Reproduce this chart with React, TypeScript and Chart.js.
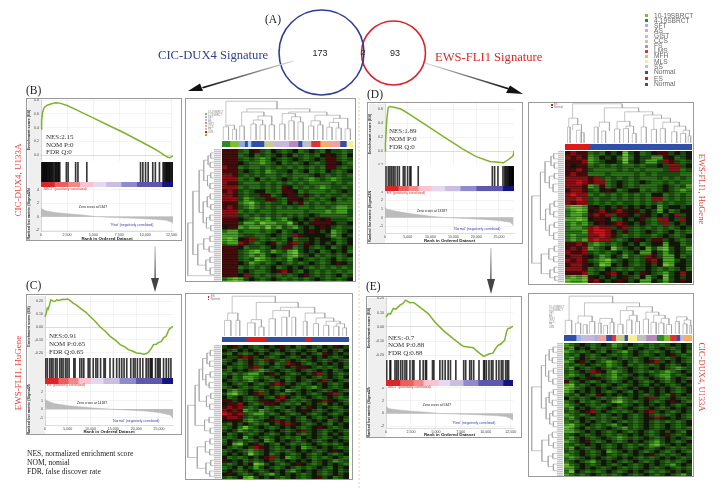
import React, { useEffect, useRef } from "react";
import { Chart, registerables } from "chart.js";
Chart.register(...registerables);

/* ---------- data ---------- */
const vennCounts = ["173", "2", "93"];
const legendLabels = ["10-19SBRCT","4-19SBRCT","SFT","AS","GIST","CCS","FS","LMS","MFH","MLS","SS","Normal","ES","Normal"];
const legendColors = ["#7fbe2c","#2d8a2c","#9fb4e6","#f4a0a0","#c8b8e0","#c8cc8c","#b888c0","#e0303a","#f4b060","#f8f090","#c0c0c0","#2f4fa8","#e01818","#2f4fa8"];

const esB = [[0,.38],[60,.5],[150,.62],[300,.69],[600,.725],[1000,.745],[1400,.76],[1800,.755],[2500,.72],[3500,.65],[5000,.54],[6500,.43],[8000,.32],[9500,.2],[10500,.12],[11200,.06],[11800,0],[12100,-.03],[12350,-.04],[12650,-.01]];
const esD = [[0,0],[100,.1],[400,.45],[700,.62],[1000,.635],[2000,.625],[3500,.6],[5500,.52],[9000,.37],[13000,.2],[17000,.03],[20000,-.08],[23000,-.15],[26000,-.168],[27000,-.125],[27700,-.09],[28100,-.07],[28300,0]];
const esC = [[0,.08],[300,.11],[500,.148],[700,.14],[1000,.175],[1300,.213],[1700,.205],[2100,.2],[2600,.213],[3000,.208],[3900,.218],[4400,.215],[5000,.22],[5600,.205],[6200,.187],[7000,.17],[8000,.14],[9000,.115],[9900,.083],[11000,.045],[12100,0],[13300,-.035],[14300,-.073],[15500,-.105],[16500,-.138],[17500,-.155],[18300,-.177],[19300,-.19],[20100,-.203],[21000,-.208],[21700,-.213],[22300,-.208],[22700,-.197],[23300,-.17],[23800,-.138],[24400,-.135],[24900,-.12],[25500,-.115],[26000,-.086],[26600,-.07],[27200,-.02],[27700,-.005],[28090,.005]];
const esE = [[0,.07],[233,.094],[450,.09],[733,.13],[1000,.125],[1400,.153],[1700,.165],[1965,.188],[2400,.17],[2700,.172],[2900,.165],[3560,.13],[4230,.094],[4900,.035],[5730,-.024],[6730,-.082],[7730,-.136],[8200,-.14],[8730,-.146],[9300,-.18],[9790,-.207],[10300,-.19],[10720,-.184],[11000,-.15],[11220,-.13],[11500,-.12],[11890,-.094],[12100,-.03],[12220,-.012],[12450,-.008],[12730,.005]];

const hitsB = [60,130,200,260,320,380,450,510,570,650,720,800,860,950,1020,1100,1180,1300,1400,1450,1550,1650,1700,1800,2430,2600,3320,3540,4390,9540,9760,10020,10270,10710,10960,11350,11700,11800,11900,12000,12050,12150,12200,12300,12350,12450,12550,12600];
const hitsD = [220,730,1090,1460,1820,2190,2700,3140,4010,4370,4960,5470,5690,7290,23550,24050,24780,25880,26240,26460,26680,26900,27100,27250,27400,27500,27700,27800,27900,28000,28100,28200];
const hitsC = [150,500,1030,1400,1760,2280,2650,3230,3600,3970,4480,4850,5290,6320,6600,7640,8080,8520,9480,9850,10580,11170,11540,12200,12940,13230,14260,15000,15730,16320,16840,17350,17940,18820,19400,19770,20280,20870,21460,22200,22640,23080,23300,23520,24250,24700,24990,25280,26020,26600,27120,27630];
const hitsE = [70,400,470,900,1070,1230,1470,1670,1900,2070,2400,2660,2800,3400,3730,3960,4060,4660,4800,5400,5660,5930,6230,6460,7000,7790,7990,8390,8560,8790,9320,9790,9890,10060,10320,10560,10720,11060,11320,11560,11720,11990,12150,12290];

const rankB = [[0,1.3],[100,1.15],[500,.85],[1500,.6],[2500,.45],[4000,.25],[5347,0],[7000,-.12],[9000,-.25],[11000,-.4],[12000,-.55],[12500,-.8],[12650,-1]];
const rankD = [[0,1.3],[300,1],[1800,.8],[5000,.5],[10000,.15],[13187,0],[18000,-.12],[22000,-.22],[25000,-.35],[27500,-.55],[28200,-.95]];
const rankC = [[0,1.25],[300,1],[2000,.65],[5000,.4],[10000,.15],[14187,0],[18000,-.1],[22000,-.22],[25000,-.4],[27500,-.7],[28090,-1.05]];
const rankE = [[0,1.05],[100,.85],[500,.7],[1500,.5],[2500,.35],[4000,.18],[5347,0],[7000,-.1],[9000,-.2],[11000,-.35],[12000,-.5],[12500,-.8],[12730,-1.1]];

const ribbonB = [1290,1290,1130,1290,1220,1450,1510,2410,1060];
const ribbonD = [2900,2200,2200,2900,2900,3400,3500,5800,2500];
const ribbonC = [2870,2200,2200,2720,2790,3530,3600,5730,2450];
const ribbonE = [1400,1330,1000,1500,1170,1330,1500,2500,1000];

const heatB = [
"rrrdgKrdgKdgdKgdKdgKddgd","rrrgdKgdgdKdKgdgdgKrKdgK","rrrdgdgGgKdgdKdgdKdrrdgd","rrrKdggGgdKgdgdKdgdrrKdg",
"Rrrgdggdgdgdgdgdgdgrrdgd","rrrdKdgdGgddKgdKgdgKdgdK","RRrdgdgdggdgdgggdKdgdgdg","RRRgdgKgdgdKdgdgGgdgGgdd",
"Rrrdgggdgdgdgdgdggggdgdg","RRRgdggdgdgrKgdgdgGgddgd","rRrdgdKKgdgrrKgdgggdgdKd","RRrdgddrrgdKrrdrdgdgddgd",
"RRRdGgddrrdgrrKdgdgdKgdg","rrrgGLgdgddgKdrgdgdgdggg","rRrdgGgdgdgdgdggdggdgGGg","RRRgdgdggdgggggdgggGgGGd",
"RRRdgdgdgdgdgdgdKdgggggd","rrrKdgGgGdgGdKdKdrKrdddg","rrrdGGgLGGggLdKdrrrrKddK","KrrGgGGgLgGdgGdKdKrKdgdd",
"gGGdgggdgdKgdKdKrKdKGgdK","GGGgddggdKdgdRrKKKKdGgKd","GLGKrRdgdgdgKgddKdKKdgdK","gGGRrdgdKrgdrRdrKdKdKgdK",
"rrrKgddgdKdrrgdKdgdKgdKd","rrrdgGLgdGgdGLdKdKgdKdKg","rrrdgGgGdKdgGLgdKgdgdgdK","rrrdgdLGgdgdGdKdgdgdKgdg",
"rrrKdGgdgdKdgdgdKdgdKrKd","rrrgdgdgdKgdKdKdgdgdgdgd","rrrdKdggdKrRKdgKdgdgdgdg","rrrKRdgdgdgdgdKrdgdgdKgd",
"gGLGdKdgdKdgdgdgdKdgdgdK"];
const heatD = [
"rRrrgdgKdKLdKgdKrrdKdK","RrRrGgKdKgLgKddGGrKgdK","rrrRGgdKKdLdKdGGdRrdgd","rKrrgdgdgdggdgddKdRRdK",
"rrRrdggggdgdgdgggdRRgd","rRrrgggdggggdgdgddddgg","RRRRrRdgdgdgdgggdgdgdg","RRXRrRRgdKdgdKdggdgdgg",
"RRRrGgrgdKdgdgggdKdgdG","rRRrdgKrKgdKKgdgdKdgGg","RXRRgdgdgdgdgdgKKgdgdg","RRXRdgddgdgdgdgRRgdgdg",
"RrRRdgdgdgddgdgdgdgddg","GLLGrKdKdrdKdKdKGdKKdK","gGLGKrRKrRrKrdKdGKgdKK","gGGgrRrRdrrKdrKdKdKRdK",
"GGLGKrrKgdKdKrdgRRKdRK","gGgGdKrKrRrKdKdgdRdKdK","gGGgRXRRdrRdgdgdgdgdKd","gggGRXXRKdrdgdKdgdKgdg",
"gGggRRXRrdgdgddgdKdgdK","gGgGRXRRdgdKrKdrrdKdgd","rrRrgGgdgdKdKgdKKGKKgd","rRrRGgdKLgdKdKGdGLdKdG",
"RrrRdgdgdKgdKGGKdGdKdg","rRRrKdGgKdGdgdRrdGGKgd","RrRrdgGLgdKdgdrRKGGdKd","rRRrKdLGKdKdgdKdKLGKKd",
"RRRrgdgKdgdgddKdgdgdKg","rrrRgdKrRKdKdrKdgGdKRK","GLGLrKdKdKrdgKGdKLdKdK","LGGLrRKdKrKdKGGKdGdKrK"];
const heatC = [
"dKrdKdgdKdKrdKgdKdgKdrKd","KdgKdKdgdKdKdgdKdgKdKdgK","dgKdgdKdKdgdKdKdKdgrKdKd","KddrRrdKdgdKdgdKdKdKdgdK",
"gdKgdKdgRrdgdKdgdKdgdKdg","dKdgdKdgdKgdRrKdgdKdKdKd","KgdgdrRdKdgdKdrrKdgdgdKg","dgKdKdgGgdKdgdKdgdKdKgdK",
"gdgdgGGdKrdKdgdKdrRdKdgd","dKgdGGgdgdKdgdKdKdgdKdgK","KdgdgGdKdgdKgdKdgdrRdKdg","dKdgdKdgdrRrdKdgdKdKdgdK",
"gdKdgdgdKdgdKdgdgGdKdgdK","KgGgdKdgdKdKGgdKdKdgdKdg","dGLgdKrRdKdgdKdKdgdKrRdK","KgdKdgdKdgrRKdgdKdgdKdgd",
"rrdKdgdrrKRrdgdgdKrRrKdg","KrrRKdgdrrKdgdgKdKdgKdKd","rRrRdgdKgdgdKdKdrKdKdgdK","RrRrGgdGgdKdgdKrKdgdKdgd",
"XRrRdgGGdgdKdgdKdgdKdgdK","rRRrdgdgdKdgdKdgKdgdKdKd","KrKrgGgdKrRrdKdgdKdKgdKg","dgKdKdgdgKdrRrKdgdKdgKdK",
"gdKgLgdKdgdKdKdgdKrKdgdK","dKdGgdgdKdKdgdrRdKdgdKdg","KgdKdgdKdgdKdKdgdKdgKdKd","dgdKGdKdgdKdgdgKdKdgdKdg",
"gKdgdgdKGgKdKdgdKdgdKdKd","dKGLdKrdKdgKdgdgdKdgdgdK","KdgdKdRrKdgdKdKGgdKdKdgd","gdKdgGgdKdgdgdKdKdgdKrKd",
"dKdKdLgdKgdKdgdKdgdKdgdK","KgdgdKdKrRdKGgdKdgdgdKdg","rKdKgdgdKdgdKdKdKgdKdGgd","dgdKdKLGdKdgdKrKdgdKdKdg",
"gdKgKdGdKdgdKdgdgdKdgKdK","dKdgdKdgdKdKgGdKdKdgdKgd","KrKdgdKdgGdKdKdgdKdgdKdK","dgdKGLdKdKdgdKdgdKrdKgdK"];
const heatE = [
"GgdKdgdKdGgdKdgdgdgdKdKd","gGKdKgdgdgdKgdKdgdKdgdKd","GgdgdKdgKdgGdKdgdgdKdgKg","gdgKdgdKdgdgdKdgdKdKrdgd",
"gGdKdgdgdKdgdgdKdgdgdKdg","GgKrdKdgGgdKdgdKrRdKdKdg","gdgdKdgdGgdKgdgdgdKdgdKd","gGKdgdKdgdgdKdgdKdKdgGgd",
"dgdKdRrKgGgdKdgdgdgGgdKd","gGgdKdgdgGdgdKdKdgGGdgdK","gdKdrKrdgGgdKdgdKdgGdKdg","rgdKdgdKdgdKdKdgdKdgdKdK",
"GLdgdKdgdKdgdKdgKdKdgdKd","LGgdKdKdKdgdKdKKdKdKdgdK","GgKdKdKdgdKdgKdKdKdKdgdK","gdgKdgrKdKdKdKdgdKdgrdKd",
"KgdgdKdgdgGgdKdrRdgdKdgd","gdKgdgdKdGLgdgdKdgdKrKdg","GgdKdgdgdKdgdKdKdKdKdgdK","gGKdKdgdKdgdKdgdKdgdKdKd",
"dgdKrRdKdgdgdKdrRdKdgdKd","GgdgdKdgdKdKdgdKdgdgdKdg","gGdKdgdgdgdKdgdKrRrKdKdg","gdgKdKdgdKdgdgdKdgdgdgdK",
"GLgdKdgdgGdKdgdKdgdKdgdK","LGdKgdgdKdgGdgdKdgdKdgdg","GGgdKdKdgdKdgdKdgdKdKdgK","gdKdgdKdgdgdKdKdgdKrdgdK",
"gGdKdgdKdgGgdgdKdgdKdKdg","GgdKrdgdKdgdKdKdgGdKdgdK","gdgdKdKdgdKdgdgdGLgdKdKd","gGKdgdKdgdKdgdKdgdKdgdgd",
"dgdKdgdKGgdKdKdgdKdgdKdg","GgdKdgdKdgdgdKdKrdgdgdKd","gGgdKdKdgdKdKdgdgdKdKdgd","gdKdgGdKdKdgdKdgdKdgdgdK",
"LgdKdgdKdgdKdgdKdKdgGdKd","GGdKdKdgdKdgdgdKdgdKdgdg","gLKdgdgdKdgdKdKdgdgdKdKd","GgdgdKdgdgdKdgdKdgdKdgGd"];

const barsB = [[6,"#2d8a2c"],[6.5,"#7fbe2c"],[4.7,"#8fa8e0"],[2.3,"#2f4fa8"],[2.6,"#b0c8ee"],[9.9,"#2f4fa8"],[7,"#c8cc8c"],[12,"#c8b8e0"],[7,"#b888c0"],[3.1,"#2f4fa8"],[6.8,"#c0c0c0"],[7,"#e0303a"],[7.3,"#f4b060"],[7.8,"#f4a0a0"],[4.9,"#2f4fa8"],[5.2,"#f8f090"]];
const barsC = [[19.2,"#2f4fa8"],[15.5,"#e01818"],[30.5,"#2f4fa8"],[4.5,"#e01818"],[30.3,"#2f4fa8"]];
const barsD = [[19,"#e01818"],[81,"#2f4fa8"]];
const barsE = [[9.4,"#2f4fa8"],[3.6,"#9fb4e6"],[10.4,"#c8b8e0"],[2.6,"#9fb4e6"],[6.8,"#f4a0a0"],[4.4,"#2f4fa8"],[3.1,"#e0303a"],[6.8,"#c8cc8c"],[2.6,"#2f4fa8"],[7,"#f8f090"],[7.3,"#c0c0c0"],[8.3,"#b888c0"],[5.7,"#2d8a2c"],[4.7,"#7fbe2c"],[5.2,"#e0303a"],[2.6,"#2f4fa8"],[2.6,"#c8b8e0"],[7,"#f4b060"]];

const colB = [[1,5,0,0,33],[8,11,0,0,27],[3,9.5,33,27,37],[13.5,17,0,0,35],[22,26,0,0,40],[29,33,0,0,38],[36,40,0,0,38],[24,31,40,38,50],[27.5,38,50,38,60],[15,32,35,60,70],[44,48,0,0,40],[51,55,0,0,48],[58,62,0,0,45],[53,60,48,45,58],[46,56,40,58,66],[66,70,0,0,35],[73,77,0,0,38],[80,84,0,0,32],[87,91,0,0,30],[94,98,0,0,28],[68,75,35,38,48],[82,89,32,30,44],[85,96,44,28,54],[71,90,48,54,62],[51,80,66,62,70],[19,67,70,70,78],[3,42,37,78,97]];
const colC = [[2,7,0,0,38],[11,14,0,0,38],[4.5,12.5,38,38,56],[20,26,0,0,32],[29,33,0,0,22],[23,31,32,22,40],[37,42,0,0,42],[47,51,0,0,46],[55,58,0,0,46],[40,53,42,46,62],[64,67,0,0,36],[72,76,0,0,30],[80,84,0,0,26],[88,92,0,0,24],[95,98,0,0,20],[90,96.5,24,20,30],[82,93,26,30,36],[74,88,30,36,44],[65.5,81,36,44,56],[46,73,62,56,70],[27,60,40,70,82],[8,42,56,82,97]];
const colD = [[2,4,0,0,40],[9,13,0,0,32],[12,15,0,0,26],[6,13,32,26,46],[3,10,40,46,62],[23,26,0,0,40],[29,32,0,0,30],[27,35,40,30,52],[39,43,0,0,35],[46,50,0,0,36],[53,56,0,0,24],[48,54,36,24,42],[41,51,35,42,54],[60,64,0,0,40],[68,72,0,0,34],[75,79,0,0,36],[84,88,0,0,28],[91,95,0,0,24],[97,99,0,0,18],[93,98,24,18,32],[86,95,28,32,42],[77,90,36,42,52],[70,83,34,52,62],[62,76,40,62,70],[47,69,54,70,78],[31,58,52,78,88],[6,45,62,88,98]];
const colE = [[1,6,0,0,35],[9,13,0,0,28],[15,18,0,0,24],[20,24,0,0,32],[27,29,0,0,28],[31,34,0,0,22],[36,39,0,0,30],[28,37.5,28,30,40],[11,22,28,32,46],[42,46,0,0,25],[49,53,0,0,36],[56,59,0,0,32],[62,66,0,0,38],[68,72,0,0,30],[74,78,0,0,28],[80,84,0,0,24],[87,90,0,0,32],[93,96,0,0,26],[98,99.5,0,0,22],[94,99,26,22,36],[88,96,32,36,44],[76,82,28,24,40],[70,79,30,40,48],[64,74,38,48,56],[51,57,36,32,48],[44,54,25,48,60],[49,69,60,56,70],[16,59,46,70,80],[4,38,35,80,97]];

const rowB = [[3,7,0,0,12],[10,14,0,0,14],[5,12,12,14,22],[18,22,0,0,12],[26,30,0,0,15],[20,28,12,15,24],[8.5,24,22,24,38],[34,38,0,0,14],[42,46,0,0,12],[36,44,14,12,25],[50,54,0,0,15],[58,62,0,0,12],[52,60,15,12,28],[40,56,25,28,40],[16,48,38,40,55],[66,70,0,0,15],[74,78,0,0,18],[68,76,15,18,38],[82,86,0,0,15],[90,95,0,0,14],[84,92,15,14,30],[72,88,38,30,60],[32,80,55,60,78],[56,96,78,0,97]];
const rowC = [[4,8,0,0,14],[12,16,0,0,16],[6,14,14,16,26],[20,24,0,0,14],[28,32,0,0,18],[22,30,14,18,30],[10,26,26,30,42],[36,40,0,0,12],[44,48,0,0,16],[38,46,12,16,28],[18,42,42,28,55],[54,58,0,0,18],[62,66,0,0,14],[56,64,18,14,35],[30,60,55,35,70],[70,74,0,0,15],[78,82,0,0,16],[72,80,15,16,32],[86,90,0,0,12],[94,98,0,0,16],[88,96,12,16,30],[76,92,32,30,62],[45,84,70,62,97]];
const rowD = [[2,6,0,0,16],[9,13,0,0,14],[4,11,16,14,26],[17,21,0,0,14],[25,31,0,0,18],[19,28,14,18,32],[8,24,26,32,48],[38,42,0,0,14],[46,50,0,0,16],[40,48,14,16,30],[54,58,0,0,14],[62,67,0,0,16],[56,64,14,16,32],[44,60,30,32,46],[16,52,48,46,65],[72,76,0,0,14],[80,84,0,0,16],[74,82,14,16,34],[88,92,0,0,14],[95,98,0,0,12],[90,96,14,12,30],[78,93,34,30,62],[34,85,65,62,97]];
const rowE = [[3,7,0,0,15],[11,15,0,0,18],[5,13,15,18,30],[19,23,0,0,14],[27,31,0,0,16],[21,29,14,16,32],[9,25,30,32,44],[35,39,0,0,14],[43,47,0,0,18],[37,45,14,18,30],[51,55,0,0,16],[59,63,0,0,14],[53,61,16,14,28],[41,57,30,28,42],[17,49,44,42,60],[67,71,0,0,18],[75,79,0,0,14],[69,77,18,14,32],[83,87,0,0,16],[91,96,0,0,14],[85,93,16,14,34],[73,89,32,34,58],[33,81,60,58,97]];

/* ---------- styles and layout ---------- */
const ribbonColors = ["#d9262c","#e8605f","#f08a8a","#f8c4cf","#e4d9ee","#c9bde0","#8f8acb","#5d57ad","#15147f"];
const cellColors: Record<string,string> = { K:"#14160b", d:"#1c4e11", g:"#2c7019", G:"#4aa226", L:"#70c036", r:"#470c0e", R:"#8a1116", X:"#c8161c" };
const GREEN = "#7db32b";
const GRID = "#e6e6e6";
const SERIF = "'Liberation Serif', serif";
const SANS = "'Liberation Sans', sans-serif";

const panels = [
  { es:esB, hits:hitsB, rank:rankB, ribbon:ribbonB, frame:[26,98,156,143], x0:41, x1:173, xMax:12650, xStep:2500,
    esR:[99,161,.815,-.087], esStep:.1, esDec:1, hitR:[162,182], ribR:[182,187], rankR:[188,231,4.3,-2.15], rankStep:1, bot:10 },
  { es:esD, hits:hitsD, rank:rankD, ribbon:ribbonD, frame:[367,102,156,142], x0:385, x1:514, xMax:28300, xStep:5000,
    esR:[103,165,.686,-.2], esStep:.1, esDec:1, hitR:[166,186], ribR:[186,191], rankR:[191,233,3.1,-1.8], rankStep:1, bot:10 },
  { es:esC, hits:hitsC, rank:rankC, ribbon:ribbonC, frame:[26,294,156,141], x0:45, x1:173, xMax:28090, xStep:5000,
    esR:[296,357,.243,-.235], esStep:.05, esDec:2, hitR:[358,378], ribR:[378,384], rankR:[384,425,2.92,-1.85], rankStep:1, bot:9 },
  { es:esE, hits:hitsE, rank:rankE, ribbon:ribbonE, frame:[366,296,156,142], x0:386, x1:513, xMax:12730, xStep:2500,
    esR:[297,359,.21,-.225], esStep:.05, esDec:2, hitR:[360,380], ribR:[380,386], rankR:[387,428,4.15,-2.3], rankStep:1, bot:9 },
];
const maps = [
  { cells:heatB, bars:barsB, col:colB, row:rowB, frame:[185,98,171,184], hx:[222,353], colY:[100,140], barY:[141,147], hy:[149,281], rowX:[187,214] },
  { cells:heatC, bars:barsC, col:colC, row:rowC, frame:[185,293,168,187], hx:[222,349], colY:[295,336], barY:[337,342], hy:[345,479], rowX:[187,214] },
  { cells:heatD, bars:barsD, col:colD, row:rowD, frame:[528,102,166,183], hx:[565,692], colY:[103,143], barY:[144,150], hy:[151,283], rowX:[531,558] },
  { cells:heatE, bars:barsE, col:colE, row:rowE, frame:[528,293,166,184], hx:[564,692], colY:[295,334], barY:[335,341], hy:[343,476], rowX:[531,557] },
];
const gseaNotes = [
  { lines:["NES:2.15","NOM P:0","FDR Q:0"], nx:46, ny:[137,144.5,152], pos:"'SRCT' (positively correlated)", px:43, py:189.5, zero:"Zero cross at 5347", zx:93, zy:208, neg:"'Rest' (negatively correlated)", gx:132, gy:226 },
  { lines:["NES:1.89","NOM P:0","FDR Q:0"], nx:389, ny:[131,139,147], pos:"'ES' (positively correlated)", px:386, py:193.5, zero:"Zero cross at 13187", zx:432, zy:212, neg:"'Normal' (negatively correlated)", gx:477, gy:230 },
  { lines:["NES:0.91","NOM P:0.65","FDR Q:0.65"], nx:49, ny:[336,344,352], pos:"'ES' (positively correlated)", px:46, py:385.5, zero:"Zero cross at 14187", zx:92, zy:404, neg:"'Normal' (negatively correlated)", gx:136, gy:422 },
  { lines:["NES:-0.7","NOM P:0.88","FDR Q:0.88"], nx:388, ny:[338,345,353], pos:"'SRCT' (positively correlated)", px:387, py:387.5, zero:"Zero cross at 5347", zx:437, zy:406, neg:"'Rest' (negatively correlated)", gx:474, gy:424 },
];
const legendY = [15.5,20.5,25.5,30.5,36,41,46,51,56,61.5,66.5,72,78.5,84];

/* ---------- chart builders ---------- */
type Spec = { rect:number[]; config:any; bg?:string; blur?:number };
const zeroPad = (s:any) => { s.paddingLeft = s.paddingRight = s.paddingTop = s.paddingBottom = 0; };
const hidden = (extra:any = {}) => ({ display:false, offset:false, ...extra });
const plotBg = { id:"plotBg", beforeDraw(c:any){ const a=c.chartArea; c.ctx.save(); c.ctx.fillStyle="#fff"; c.ctx.fillRect(a.left,a.top,a.width,a.height); c.ctx.restore(); } };
const baseOpts = (scales:any) => ({ responsive:false, animation:false, devicePixelRatio:1, events:[], layout:{padding:0,autoPadding:false},
  plugins:{legend:{display:false},tooltip:{enabled:false}}, scales });
const pts = (a:number[][]) => a.map(([x,y])=>({x,y}));
const tinyFont = { size:3.6, family:SANS };
const stepTicks = (step:number,max:number) => (s:any) => { const t=[]; for(let v=0;v<=max;v+=step) t.push({value:v}); s.ticks=t; };

function gseaSpecs(p:any):Spec[] {
  const left = p.frame[0]+1, margin = p.x0-left, w = p.x1-left;
  const yAxis = (min:number,max:number,step:number,dec:number,title:string) => ({
    min, max, afterFit:(s:any)=>{s.width=margin;zeroPad(s);},
    ticks:{stepSize:step,includeBounds:false,font:tinyFont,color:"#444",padding:1,callback:(v:number)=>dec?Number(v).toFixed(dec):String(Math.round(v))},
    grid:{color:(c:any)=>c.tick&&Math.abs(c.tick.value)<1e-6?"#bbb":GRID,lineWidth:.5,tickLength:1},
    border:{color:"#bbb",width:.5},
    title:{display:true,text:title,font:{size:3.8,family:SANS,weight:"bold"},color:"#333",padding:0}});
  const out:Spec[] = [];
  out.push({ rect:[left,p.esR[0],w,p.esR[1]-p.esR[0]], config:{ type:"line", plugins:[plotBg],
    data:{datasets:[{data:pts(p.es),borderColor:GREEN,borderWidth:1.5,pointRadius:0,tension:0,clip:false}]},
    options:baseOpts({
      x:{type:"linear",min:0,max:p.xMax,afterFit:(s:any)=>{s.height=0;zeroPad(s);},afterBuildTicks:stepTicks(p.xStep,p.xMax),ticks:{display:false},grid:{color:GRID,lineWidth:.5,tickLength:0},border:{display:false}},
      y:yAxis(p.esR[3],p.esR[2],p.esStep,p.esDec,"Enrichment score (ES)") }) } });
  out.push({ rect:[p.x0,p.hitR[0],p.x1-p.x0,p.hitR[1]-p.hitR[0]], bg:"#fff", config:{ type:"bar",
    data:{datasets:[{data:p.hits.map((x:number)=>({x,y:1})),backgroundColor:"rgba(0,0,0,.78)",barThickness:1}]},
    options:baseOpts({ x:hidden({type:"linear",min:0,max:p.xMax}), y:hidden({min:0,max:1}) }) } });
  out.push({ rect:[p.x0,p.ribR[0],p.x1-p.x0,p.ribR[1]-p.ribR[0]], config:{ type:"bar",
    data:{labels:["rank"],datasets:p.ribbon.map((v:number,i:number)=>({data:[v],backgroundColor:ribbonColors[i],categoryPercentage:1,barPercentage:1}))},
    options:{...baseOpts({ x:hidden({stacked:true,min:0,max:p.xMax}), y:{display:false,stacked:true,offset:true} }),indexAxis:"y"} } });
  out.push({ rect:[left,p.rankR[0],w+6,p.rankR[1]-p.rankR[0]+p.bot], config:{ type:"line", plugins:[plotBg],
    data:{datasets:[{data:pts(p.rank),borderColor:"#b5b5b5",backgroundColor:"#bcbcbc",borderWidth:.5,pointRadius:0,tension:0,fill:"origin"}]},
    options:{...baseOpts({
      x:{type:"linear",min:0,max:p.xMax,afterFit:(s:any)=>{s.height=p.bot;zeroPad(s);},afterBuildTicks:stepTicks(p.xStep,p.xMax),
        ticks:{font:tinyFont,color:"#444",padding:.5,maxRotation:0,autoSkip:false,callback:(v:number)=>Number(v).toLocaleString("en-US")},
        grid:{color:GRID,lineWidth:.5,tickLength:1},border:{color:"#bbb",width:.5},
        title:{display:true,text:"Rank in Ordered Dataset",font:{size:4.4,family:SANS,weight:"bold"},color:"#222",padding:0}},
      y:yAxis(p.rankR[3],p.rankR[2],p.rankStep,0,"Ranked list metric (Signal2Noise)") }),
      layout:{padding:{right:6},autoPadding:false}} } });
  return out;
}

function dendroPts(merges:number[][], horizontal:boolean) {
  const out:any[] = [];
  const add = (pos:number,h:number)=>out.push(horizontal?{x:h,y:pos}:{x:pos,y:h});
  for (const [a,b,ha,hb,top] of merges) { add(a,ha); add(a,top); add(b,top); add(b,hb); out.push({x:NaN,y:NaN}); }
  return out;
}

function mapSpecs(m:any):Spec[] {
  const out:Spec[] = [];
  const hw = m.hx[1]-m.hx[0];
  const line = { borderColor:"#a0a0a0", borderWidth:.6, pointRadius:0, tension:0, showLine:true, spanGaps:false };
  out.push({ rect:[m.hx[0],m.colY[0],hw,m.colY[1]-m.colY[0]], config:{ type:"scatter",
    data:{datasets:[{data:dendroPts(m.col,false),...line}]},
    options:baseOpts({ x:hidden({type:"linear",min:0,max:100}), y:hidden({min:0,max:100}) }) } });
  out.push({ rect:[m.rowX[0],m.hy[0],m.rowX[1]-m.rowX[0],m.hy[1]-m.hy[0]], config:{ type:"scatter",
    data:{datasets:[{data:dendroPts(m.row,true),...line}]},
    options:baseOpts({ x:hidden({type:"linear",min:0,max:100,reverse:true}), y:hidden({min:0,max:100,reverse:true}) }) } });
  out.push({ rect:[m.hx[0],m.barY[0],hw,m.barY[1]-m.barY[0]], config:{ type:"bar",
    data:{labels:["class"],datasets:m.bars.map(([v,c]:any)=>({data:[v],backgroundColor:c,categoryPercentage:1,barPercentage:1}))},
    options:{...baseOpts({ x:hidden({stacked:true,min:0,max:100}), y:{display:false,stacked:true,offset:true} }),indexAxis:"y"} } });
  const cols = m.cells[0].length, rows = m.cells.length;
  out.push({ rect:[m.hx[0],m.hy[0],hw,m.hy[1]-m.hy[0]], bg:"#14160b", blur:.45, config:{ type:"bar",
    data:{labels:Array.from({length:cols},(_,i)=>String(i)),
      datasets:m.cells.map((r:string)=>({data:r.split("").map(()=>1),backgroundColor:r.split("").map(ch=>cellColors[ch]),categoryPercentage:1,barPercentage:1,borderWidth:0}))},
    options:baseOpts({ x:{display:false,stacked:true,offset:true}, y:hidden({stacked:true,min:0,max:rows,reverse:true}) }) } });
  return out;
}

const vennSpec:Spec = { rect:[0,0,724,494], config:{ type:"bubble",
  data:{datasets:[
    {data:[{x:321.5,y:52.5,r:42.5}],borderColor:"#2c3f93",backgroundColor:"rgba(0,0,0,0)",borderWidth:1.6},
    {data:[{x:393.5,y:53,r:32}],borderColor:"#d9242a",backgroundColor:"rgba(0,0,0,0)",borderWidth:1.6}]},
  options:baseOpts({ x:hidden({type:"linear",min:0,max:724}), y:hidden({min:0,max:494,reverse:true}) }) } };

const allSpecs:Spec[] = [vennSpec, ...panels.flatMap(gseaSpecs), ...maps.flatMap(mapSpecs)];

/* ---------- page ---------- */
const T = ({x,y,size,color="#222",font=SERIF,rot=0,center=false,children,weight}:any) => (
  <div style={{position:"absolute",left:x,top:y,fontSize:size,color,fontFamily:font,fontWeight:weight,lineHeight:1,whiteSpace:"nowrap",
    transform:`translate(${center||rot?"-50%":"0"},-50%) rotate(${rot}deg)`}}>{children}</div>
);
const Box = ({r}:any) => <div style={{position:"absolute",left:r[0],top:r[1],width:r[2],height:r[3],boxSizing:"border-box",border:"1.5px solid #9a9a9a",background:"#fff"}} />;

export default function App() {
  const refs = useRef<(HTMLCanvasElement|null)[]>([]);
  useEffect(() => {
    const charts = allSpecs.map((s,i)=> new Chart(refs.current[i] as HTMLCanvasElement, s.config));
    return () => charts.forEach(c=>c.destroy());
  }, []);
  return (
    <div style={{position:"fixed",left:0,top:0,width:724,height:494,background:"#fff",overflow:"hidden",filter:"blur(0.35px)"}}>
      {panels.map((p,i)=><Box key={i} r={p.frame} />)}
      {panels.map((p,i)=><div key={i} style={{position:"absolute",left:p.frame[0]+1.5,top:p.frame[1]+1.5,width:p.x0-p.frame[0]-1.5,height:p.frame[3]-3,background:"#efefef"}} />)}
      {maps.map((m,i)=><Box key={i} r={m.frame} />)}
      {maps.map((m,i)=><div key={i} style={{position:"absolute",left:m.rowX[1],top:m.hy[0],width:m.hx[0]-m.rowX[1]-1,height:m.hy[1]-m.hy[0],background:"repeating-linear-gradient(#c4c4c4 0 1px,#e8e8e8 1px 2px)"}} />)}
      {allSpecs.map((s,i)=>(
        <canvas key={i} ref={el=>{refs.current[i]=el;}} width={s.rect[2]} height={s.rect[3]}
          style={{position:"absolute",left:s.rect[0],top:s.rect[1],width:s.rect[2],height:s.rect[3],background:s.bg,filter:s.blur?`blur(${s.blur}px)`:undefined,clipPath:s.blur?"inset(0)":undefined}} />
      ))}
      {maps.map((m,i)=><div key={i} style={{position:"absolute",left:m.hx[0],top:m.hy[0],width:m.hx[1]-m.hx[0],height:m.hy[1]-m.hy[0],background:"repeating-linear-gradient(rgba(10,14,4,.34) 0 1px,rgba(0,0,0,0) 1px 2px,rgba(10,14,4,.2) 2px 3px,rgba(0,0,0,0) 3px 5px)"}} />)}
      <svg width={724} height={494} style={{position:"absolute",left:0,top:0}}>
        <defs>
          <linearGradient id="a1" x1="1" x2="0" y1="0" y2="0"><stop offset="0" stopColor="#ddd"/><stop offset="1" stopColor="#111"/></linearGradient>
          <linearGradient id="a2" x1="0" x2="1" y1="0" y2="0"><stop offset="0" stopColor="#ddd"/><stop offset="1" stopColor="#111"/></linearGradient>
          <linearGradient id="a3" x1="0" x2="0" y1="0" y2="1"><stop offset="0" stopColor="#ccc"/><stop offset="1" stopColor="#333"/></linearGradient>
        </defs>
        <path d="M293,60.5 L202,87 L203,88.5 L294,61.5 Z" fill="url(#a1)"/>
        <polygon points="188,91 200,83.5 203,91" fill="#111"/>
        <path d="M425,62.5 L509,88 L508,89.5 L425,63.5 Z" fill="url(#a2)"/>
        <polygon points="523,94 510,85.5 506,93" fill="#111"/>
        <rect x={154.5} y={246} width={1.2} height={32} fill="url(#a3)"/>
        <polygon points="155,292 151,278 159,278" fill="#444"/>
        <rect x={490.3} y={248} width={1.2} height={32} fill="url(#a3)"/>
        <polygon points="491,294 487,279 495,279" fill="#444"/>
        <line x1={359} y1={98} x2={359} y2={490} stroke="#f0c8b8" strokeWidth={1} strokeDasharray="2 2"/>
      </svg>

      <T x={265} y={20} size={11.5}>(A)</T>
      <T x={158} y={55} size={12.6} color="#2f3f8f">CIC-DUX4 Signature</T>
      <T x={435} y={56.5} size={12.6} color="#d92a2a">EWS-FLI1 Signature</T>
      <T x={320} y={53} size={9} font={SANS} center>{vennCounts[0]}</T>
      <T x={363} y={53} size={8} font={SANS} center>{vennCounts[1]}</T>
      <T x={395} y={53} size={9} font={SANS} center>{vennCounts[2]}</T>

      <T x={26} y={91} size={11.5}>(B)</T>
      <T x={367} y={95} size={11.5}>(D)</T>
      <T x={26} y={286} size={11.5}>(C)</T>
      <T x={366} y={287} size={11.5}>(E)</T>

      <T x={18} y={180} size={9} color="#e8403a" rot={-90}>CIC-DUX4, U133A</T>
      <T x={18} y={373} size={9} color="#e8403a" rot={-90}>EWS-FLI1, HuGene</T>
      <T x={702} y={189} size={8.5} color="#d8403a" rot={90}>EWS-FLI1, HuGene</T>
      <T x={702} y={377} size={8.5} color="#d8403a" rot={90}>CIC-DUX4, U133A</T>

      <T x={27} y={454} size={7.6}>NES, normalized enrichment score</T>
      <T x={27} y={463} size={7.6}>NOM, nomial</T>
      <T x={27} y={472} size={7.6}>FDR, false discover rate</T>

      {gseaNotes.map((n,i)=>(
        <React.Fragment key={i}>
          {n.lines.map((l,j)=><T key={j} x={n.nx} y={n.ny[j]} size={7} color="#333">{l}</T>)}
          <T x={n.px} y={n.py} size={3.4} font={SANS} color="#d8302c">{n.pos}</T>
          <T x={n.zx} y={n.zy} size={3.4} font={SANS} color="#222" center>{n.zero}</T>
          <T x={n.gx} y={n.gy} size={3.4} font={SANS} color="#3a3ab0" center>{n.neg}</T>
        </React.Fragment>
      ))}

      {legendLabels.map((l,i)=>(
        <React.Fragment key={i}>
          <div style={{position:"absolute",left:645,top:legendY[i]-1.5,width:3,height:3,background:legendColors[i]}} />
          <T x={654} y={legendY[i]} size={6.6} font={SANS} color="#666">{l}</T>
        </React.Fragment>
      ))}
      {[[205,113],[205,116],[205,119],[205,122],[205,125],[205,128],[205,131],[205,134]].map(([x,y],i)=>(
        <div key={i} style={{position:"absolute",left:x,top:y,width:1.5,height:1.5,background:legendColors[i*2%14]}} />
      ))}
      <T x={208} y={124} size={2.6} font={SANS} color="#888"><div style={{lineHeight:"2.9px"}}>{legendLabels.slice(0,8).map((l,i)=><div key={i}>{l}</div>)}</div></T>
      <T x={211} y={298} size={2.8} font={SANS} color="#777"><div style={{lineHeight:"2.8px"}}><div>ES</div><div>Normal</div></div></T>
      <div style={{position:"absolute",left:207.5,top:296,width:1.6,height:1.6,background:"#e01818"}} />
      <div style={{position:"absolute",left:207.5,top:298.6,width:1.6,height:1.6,background:"#2f4fa8"}} />
      <T x={554} y={106} size={2.8} font={SANS} color="#777"><div style={{lineHeight:"2.8px"}}><div>ES</div><div>Normal</div></div></T>
      <div style={{position:"absolute",left:551,top:104,width:1.6,height:1.6,background:"#e01818"}} />
      <div style={{position:"absolute",left:551,top:106.6,width:1.6,height:1.6,background:"#2f4fa8"}} />
      <T x={549} y={319} size={2.6} font={SANS} color="#888"><div style={{lineHeight:"2.9px"}}>{legendLabels.slice(0,8).map((l,i)=><div key={i}>{l}</div>)}</div></T>
    </div>
  );
}
